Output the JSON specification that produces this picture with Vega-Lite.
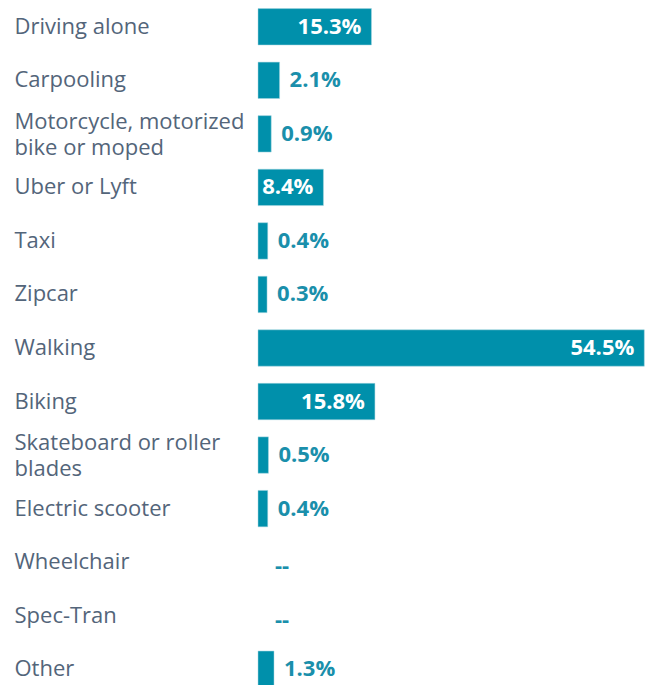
{
  "$schema": "https://vega.github.io/schema/vega-lite/v6.json",
  "autosize": {"type": "none"},
  "width": 387,
  "height": 696,
  "padding": {"left": 258, "top": 0, "right": 4, "bottom": 0},
  "background": "white",
  "config": {"view": {"stroke": null}},
  "data": {
    "values": [
      {"mode": "Driving alone", "value": 15.3, "label": "15.3%"},
      {"mode": "Carpooling", "value": 2.1, "label": "2.1%"},
      {"mode": "Motorcycle, motorized|bike or moped", "value": 0.9, "label": "0.9%"},
      {"mode": "Uber or Lyft", "value": 8.4, "label": "8.4%"},
      {"mode": "Taxi", "value": 0.4, "label": "0.4%"},
      {"mode": "Zipcar", "value": 0.3, "label": "0.3%"},
      {"mode": "Walking", "value": 54.5, "label": "54.5%"},
      {"mode": "Biking", "value": 15.8, "label": "15.8%"},
      {"mode": "Skateboard or roller|blades", "value": 0.5, "label": "0.5%"},
      {"mode": "Electric scooter", "value": 0.4, "label": "0.4%"},
      {"mode": "Wheelchair", "value": null, "label": "--"},
      {"mode": "Spec-Tran", "value": null, "label": "--"},
      {"mode": "Other", "value": 1.3, "label": "1.3%"}
    ]
  },
  "encoding": {
    "y": {
      "field": "mode",
      "type": "nominal",
      "scale": {
        "domain": ["Driving alone", "Carpooling", "Motorcycle, motorized|bike or moped", "Uber or Lyft", "Taxi", "Zipcar", "Walking", "Biking", "Skateboard or roller|blades", "Electric scooter", "Wheelchair", "Spec-Tran", "Other"],
        "paddingInner": 0.32,
        "paddingOuter": 0.16
      },
      "axis": {
        "title": null,
        "domain": false,
        "ticks": false,
        "labelPadding": 244,
        "labelAlign": "left",
        "labelBaseline": "middle",
        "labelFont": "Open Sans",
        "labelFontSize": 22,
        "labelColor": "#53657a",
        "labelLimit": 300,
        "labelLineHeight": 26,
        "labelOffset": {"condition": {"test": "indexof(datum.label, '|') >= 0", "value": -12}, "value": 0},
        "labelExpr": "split(datum.label, '|')"
      }
    }
  },
  "layer": [
    {
      "mark": {"type": "bar", "color": "#0090ab", "stroke": "#a9d6e0", "strokeWidth": 0.5},
      "encoding": {
        "x": {"field": "value", "type": "quantitative", "scale": {"domain": [-1, 54.6], "nice": false, "zero": false}, "axis": null},
        "x2": {"datum": -1}
      }
    },
    {
      "transform": [{"filter": "datum.value >= 8"}],
      "mark": {"type": "text", "align": "right", "baseline": "middle", "dx": -10, "font": "Open Sans", "fontSize": 22, "fontWeight": "bold", "color": "white"},
      "encoding": {
        "x": {"field": "value", "type": "quantitative"},
        "text": {"field": "label"}
      }
    },
    {
      "transform": [{"filter": "datum.value != null && datum.value < 8"}],
      "mark": {"type": "text", "align": "left", "baseline": "middle", "dx": 10, "font": "Open Sans", "fontSize": 22, "fontWeight": "bold", "color": "#1a8fab"},
      "encoding": {
        "x": {"field": "value", "type": "quantitative"},
        "text": {"field": "label"}
      }
    },
    {
      "transform": [{"filter": "datum.value == null"}],
      "mark": {"type": "text", "align": "left", "baseline": "middle", "dx": 10, "dy": 4, "font": "Open Sans", "fontSize": 22, "fontWeight": "bold", "color": "#1a8fab"},
      "encoding": {
        "x": {"datum": 0},
        "text": {"field": "label"}
      }
    }
  ]
}
